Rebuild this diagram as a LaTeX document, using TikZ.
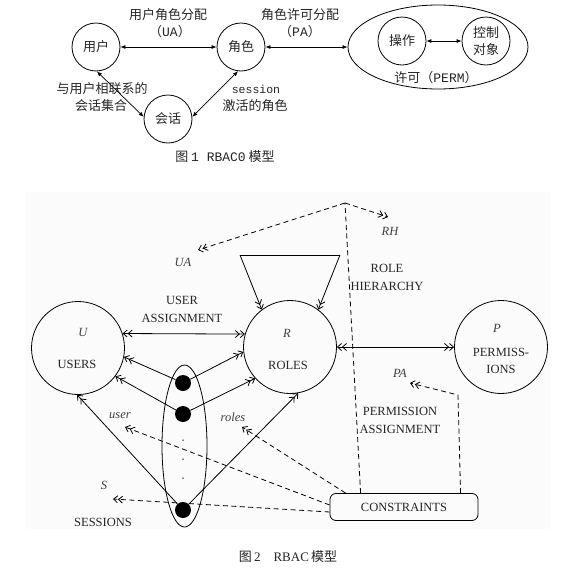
\documentclass[tikz,border=0pt]{standalone}
\usepackage{fontspec}
\setmainfont{Liberation Serif}
\setmonofont{Liberation Mono}
\newfontfamily\cjk{Noto Sans CJK SC}
\usetikzlibrary{arrows.meta,shapes.geometric,calc}
\tikzset{
  c1/.style={circle,draw,line width=0.8pt,minimum size=48pt,inner sep=0pt,align=center,font=\cjk\fontsize{13}{17}\selectfont,text=black!85},
  t1/.style={inner sep=0pt,font=\cjk\fontsize{13}{15}\selectfont,text=black!85},
  a1/.style={line width=0.7pt,{Latex[length=5pt,width=4pt]}-{Latex[length=5pt,width=4pt]}},
  c2/.style={circle,draw,line width=0.8pt,minimum size=93pt,inner sep=0pt},
  t2/.style={inner sep=0pt,align=center,font=\fontsize{12.5}{18}\selectfont,text=black!85},
  it2/.style={inner sep=0pt,font=\fontsize{12.5}{18}\selectfont\itshape,text=black!75},
  ln/.style={line width=0.8pt},
  dtip/.style={-{Straight Barb[length=4pt,width=7pt] Straight Barb[length=4pt,width=7pt]}},
  ddtip/.style={{Straight Barb[length=4pt,width=7pt] Straight Barb[length=4pt,width=7pt]}-{Straight Barb[length=4pt,width=7pt] Straight Barb[length=4pt,width=7pt]}},
  dsh/.style={line width=0.8pt,dash pattern=on 5pt off 3.5pt},
  bigdot/.style={circle,fill,inner sep=0pt,minimum size=16pt},
  smalldot/.style={circle,fill,inner sep=0pt,minimum size=1.5pt}
}
\begin{document}
\begin{tikzpicture}[x=1pt,y=-1pt]
\useasboundingbox (0,0) rectangle (567,576);
\fill[white] (0,0) rectangle (567,576);
\fill[black!1.5] (26,192) rectangle (550,529);

% ---------- Figure 1 ----------
\node[c1] (u1) at (96,47) {用户};
\node[c1] (r1) at (241,47) {角色};
\node[c1] (s1) at (168,119) {会话};
\node[ellipse,draw,line width=0.8pt,minimum width=180pt,minimum height=84pt,inner sep=0pt] (perm) at (438,47) {};
\node[c1] (op) at (402,41) {操作};
\node[c1] (obj) at (486,41) {控制\\对象};

\draw[a1] (u1) -- (r1);
\draw[a1] (u1.-88) -- (s1.175);
\draw[a1] (r1.-97) -- (s1.5);
\draw[a1] (r1) -- (perm);
\draw[a1] (op) -- (obj);

\node[t1] (lua) at (168,15) {用户角色分配};
\node[t1] (lua2) at (170,32) {（\texttt{UA}）};
\node[t1] (lpa) at (300,15) {角色许可分配};
\node[t1] (lpa2) at (300,32) {（\texttt{PA}）};
\node[t1] (lus) at (102,89) {与用户相联系的};
\node[t1] (lus2) at (101,106) {会话集合};
\node[inner sep=0pt,font=\ttfamily\fontsize{11.5}{14}\selectfont,text=black!85] (lse) at (256,89) {session};
\node[t1] (lse2) at (255,106) {激活的角色};
\node[t1] (lperm) at (436,78) {许可（\texttt{PERM}）};
\node[t1] (cap1) at (225,157) {图 \texttt{1 RBAC0} 模型};

% ---------- Figure 2 ----------
\node[c2] (U) at (78,348) {};
\node[c2] (R) at (290,347) {};
\node[c2] (P) at (501,347) {};
\node[ellipse,draw,line width=0.8pt,minimum width=45pt,minimum height=162pt,inner sep=0pt] (sess) at (184.5,446) {};
\node[bigdot] (d1) at (183,383) {};
\node[bigdot] (d2) at (183,414) {};
\node[bigdot] (d3) at (183,510) {};
\node[smalldot] (e1) at (183,440) {};
\node[smalldot] (e2) at (183,459) {};
\node[smalldot] (e3) at (183,478) {};

\draw[ln,ddtip] (U.18) -- (R.164);
\draw[ln,ddtip] (R.east) -- (P.west);
\draw[ln,dtip] (d1) -- (U.-11);
\draw[ln,dtip] (d1) -- (R.-174);
\draw[ln,dtip] (d2) -- (U.-37);
\draw[ln,dtip] (d2) -- (R.-138);
\draw[ln,dtip] (d3) -- (U.-91);
\draw[ln,dtip] (d3) -- (R.-80);

\coordinate (lt) at (240,255);
\coordinate (rt) at (340,255);
\draw[ln] (lt) -- (rt);
\draw[ln,dtip] (lt) -- (R.127);
\draw[ln,dtip] (rt) -- (R.53);

\node[draw,rounded corners=6pt,line width=0.8pt,minimum width=148pt,minimum height=27pt,t2] (cons) at (404,507) {CONSTRAINTS};
\coordinate (ap) at (345,203);
\coordinate (uatip) at (198,250);
\coordinate (rhtip) at (388,217);
\coordinate (patip) at (410,383);
\coordinate (pacorner) at (458,395);
\coordinate (usertip) at (125,427);
\coordinate (rolestip) at (242,427);
\coordinate (stip) at (113,499);

\draw[dsh,dtip] (ap) -- (uatip);
\draw[dsh,dtip] (ap) -- (rhtip);
\draw[dsh] ([xshift=31pt]cons.north west) -- (ap);
\draw[dsh,dtip] ([xshift=131pt]cons.north west) -- (pacorner) -- (patip);
\draw[dsh,dtip] ([xshift=16pt]cons.north west) -- (rolestip);
\draw[dsh,dtip] ([yshift=2pt]cons.west) -- (usertip);
\draw[dsh,dtip] ([yshift=-5pt]cons.west) -- (stip);

\node[it2] (lU) at (83,332) {U};
\node[t2] (lUSERS) at (77,364) {USERS};
\node[it2] (lR) at (287,333) {R};
\node[t2] (lROLES) at (288,365) {ROLES};
\node[it2] (lP) at (497,328) {P};
\node[t2,font=\fontsize{12.5}{17}\selectfont] (lPERM) at (501,360.5) {PERMISS-\\IONS};
\node[t2] (lUAS) at (182,309) {USER\\ASSIGNMENT};
\node[t2] (lRH2) at (387,277.5) {ROLE\\HIERARCHY};
\node[t2] (lPAS) at (400,420.5) {PERMISSION\\ASSIGNMENT};
\node[it2] (lUA) at (183,262) {UA};
\node[it2] (lRH) at (390,231) {RH};
\node[it2] (lPA) at (400,373) {PA};
\node[it2] (luser) at (120,416) {user};
\node[it2] (lroles) at (233,417) {roles};
\node[it2] (lS) at (104,485) {S};
\node[t2] (lSES) at (103,522) {SESSIONS};
\node[t2,font=\fontsize{13}{15}\selectfont] (cap2) at (288,557) {{\cjk 图}\,2\quad RBAC\,{\cjk 模型}};
\end{tikzpicture}
\end{document}
